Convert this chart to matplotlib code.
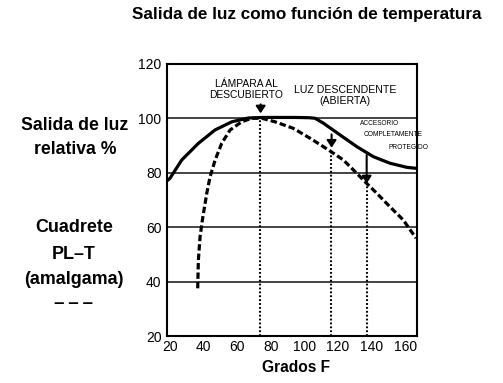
import matplotlib
matplotlib.use("Agg")
import matplotlib.pyplot as plt

plt.rcParams["lines.scale_dashes"] = False

# --- data -------------------------------------------------------------
# open lamp / standard curve (solid)
solid_x = [18.2, 19.9, 26.9, 36.8, 46.7, 56.7, 66.6, 75.0, 85.0, 95.0, 103.0,
           106.3, 111.3, 121.2, 131.2, 141.1, 151.0, 161.0, 167.1]
solid_y = [77.0, 77.9, 84.6, 90.7, 95.6, 98.6, 100.0, 100.2, 100.2, 100.2, 100.1,
           99.9, 98.1, 93.8, 89.5, 85.8, 83.4, 81.9, 81.5]

# PL-T amalgam curve (dashed)
amal_x = [36.4, 36.8, 37.8, 39.2, 41.8, 43.8, 46.8, 50.7, 55.7, 62.6, 68.6, 74.6,
          82.5, 93.4, 103.3, 114.3, 123.2, 131.2, 137.1, 143.1, 151.0, 158.9, 166.5]
amal_y = [37.5, 47.9, 56.4, 62.6, 72.4, 78.5, 84.6, 90.7, 95.6, 98.6, 99.9, 99.9,
          98.6, 96.2, 92.6, 88.3, 84.6, 79.7, 76.0, 72.4, 67.4, 62.6, 55.9]

# marked temperatures (dotted verticals) and where each one starts
marker_x = [73.7, 115.8, 137.2]
marker_top = [100.0, 87.6, 75.4]

# arrows: (x, tail y, tip y)
arrow_x = [73.9, 116.2, 137.1]
arrow_tail = [105.0, 94.0, 86.4]
arrow_tip = [101.7, 89.1, 76.0]

x_ticks = [20, 40, 60, 80, 100, 120, 140, 160]
y_ticks = [20, 40, 60, 80, 100, 120]
grid_y = [40, 60, 80, 100]

title = "Salida de luz como función de temperatura"
x_label = "Grados F"
y_label_lines = ["Salida de luz", "relativa %"]
legend_lines = ["Cuadrete", "PL\u2013T", "(amalgama)"]
legend_swatch = "\u2013\u2009\u2013\u2009\u2013"

# --- fonts ------------------------------------------------------------
bold_font = dict(family=["Liberation Sans", "DejaVu Sans"], weight="bold")
plain_font = dict(family=["Liberation Sans", "DejaVu Sans"])

# --- figure -----------------------------------------------------------
W, H = 503, 383
fig = plt.figure(figsize=(W / 100, H / 100), dpi=100)
ax = fig.add_axes([167 / W, 1 - 336 / H, 250 / W, 272.5 / H])

ax.set_xlim(18.1, 167.1)
ax.set_ylim(20, 120)

for gy in grid_y:
    ax.axhline(gy, color="#111111", lw=1.1, zorder=1)

for mx, mt in zip(marker_x, marker_top):
    ax.plot([mx, mx], [20, mt], color="black", lw=1.5, dashes=(1.3, 1.5),
            dash_capstyle="butt", zorder=2)

ax.plot(solid_x, solid_y, color="black", lw=2.3, solid_capstyle="butt", zorder=3)
ax.plot(amal_x, amal_y, color="black", lw=2.3, dashes=(4.6, 2.2),
        dash_capstyle="butt", zorder=3)

# arrows pointing to the marked temperatures
arrow_kw = dict(arrowstyle="-|>,head_length=0.42,head_width=0.28",
                color="black", lw=1.5, shrinkA=0, shrinkB=0, mutation_scale=10)
for axx, t0, t1 in zip(arrow_x, arrow_tail, arrow_tip):
    ax.annotate("", xy=(axx, t1), xytext=(axx, t0), arrowprops=arrow_kw)

ax.text(65.2, 110.4, "LÁMPARA AL\nDESCUBIERTO", ha="center", va="center",
        fontsize=7.4, linespacing=1.1, **plain_font)
ax.text(124.2, 108.3, "LUZ DESCENDENTE\n(ABIERTA)", ha="center", va="center",
        fontsize=7.6, linespacing=1.1, **plain_font)
ax.text(144.5, 98.1, "ACCESORIO", ha="center", va="center", fontsize=4.7, **plain_font)
ax.text(152.8, 93.8, "COMPLETAMENTE", ha="center", va="center", fontsize=4.8, **plain_font)
ax.text(162.0, 89.2, "PROTEGIDO", ha="center", va="center", fontsize=4.8,
        clip_on=False, **plain_font)

ax.set_xticks(x_ticks)
ax.set_yticks(y_ticks)
ax.set_xticklabels([str(v) for v in x_ticks], fontsize=10, **plain_font)
ax.set_yticklabels([str(v) for v in y_ticks], fontsize=10, **plain_font)
ax.tick_params(axis="both", length=0)
ax.tick_params(axis="x", pad=3)
ax.tick_params(axis="y", pad=4)

for s in ax.spines.values():
    s.set_linewidth(1.5)
    s.set_color("black")

fig.text(306.7 / W, 1 - 15 / H, title, ha="center", va="center",
         fontsize=12.3, **bold_font)
fig.text(296 / W, 1 - 367 / H, x_label, ha="center", va="center",
         fontsize=11.2, **bold_font)

for txt, yy in zip(y_label_lines, [125, 150]):
    fig.text(75 / W, 1 - yy / H, txt, ha="center", va="center",
             fontsize=12.7, **bold_font)
for txt, yy in zip(legend_lines, [227.7, 254.3, 280]):
    fig.text(74 / W, 1 - yy / H, txt, ha="center", va="center",
             fontsize=12.9, **bold_font)
fig.text(74 / W, 1 - 303 / H, legend_swatch, ha="center", va="center",
         fontsize=13.5, **bold_font)

fig.savefig("out.png", dpi=100)
